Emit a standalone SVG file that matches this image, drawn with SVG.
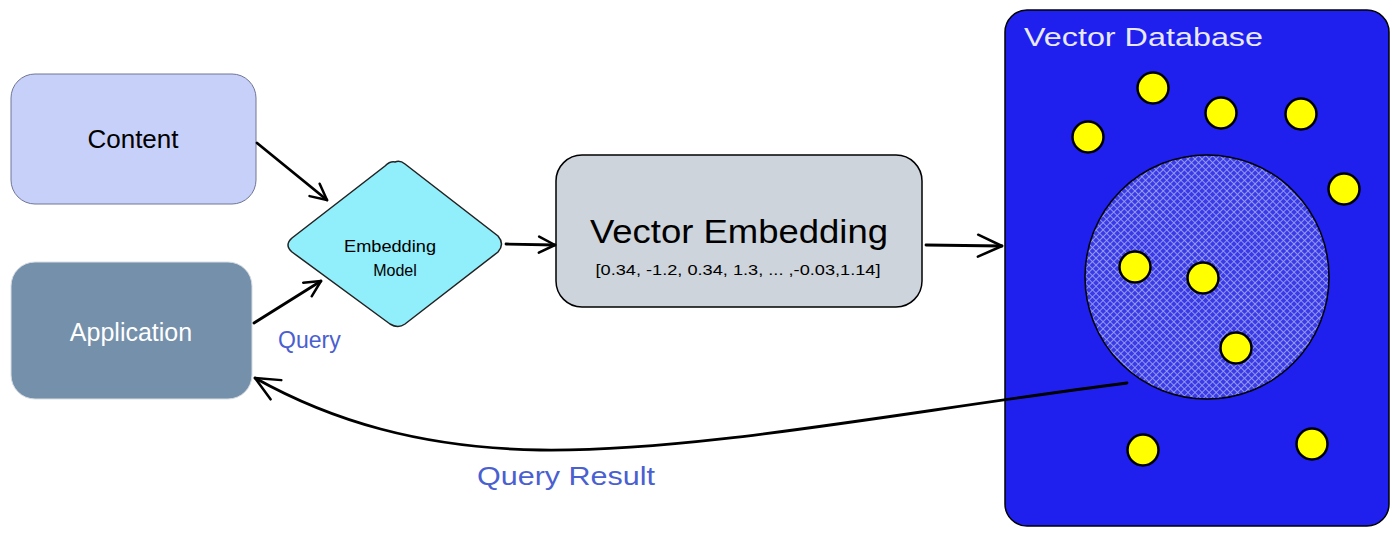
<svg xmlns="http://www.w3.org/2000/svg" width="1399" height="537" viewBox="0 0 1399 537">
<style>
.lbl{font-family:"Liberation Sans","DejaVu Sans",sans-serif;text-anchor:middle}
.conn{fill:none;stroke:#000;stroke-width:2.8;stroke-linecap:round;stroke-linejoin:round}
.dot{fill:#ffff00;stroke:#000;stroke-width:2.5}
.q{font-family:"Liberation Sans","DejaVu Sans",sans-serif;fill:#4a5fd0}
</style>
<defs>
<marker id="arr" viewBox="0 0 20 20" refX="18" refY="10" markerWidth="20" markerHeight="20" markerUnits="userSpaceOnUse" orient="auto">
<path d="M2,2 L18,10 L2,18" fill="none" stroke="#000" stroke-width="2.5" stroke-linecap="round" stroke-linejoin="round"/>
</marker>
<marker id="arrL" viewBox="0 0 30 30" refX="28" refY="15" markerWidth="30" markerHeight="30" markerUnits="userSpaceOnUse" orient="auto">
<path d="M4,4 L28,15 L4,26" fill="none" stroke="#000" stroke-width="2.5" stroke-linecap="round" stroke-linejoin="round"/>
</marker>
<pattern id="hatch" width="5" height="5" patternUnits="userSpaceOnUse" patternTransform="rotate(45)">
<rect width="5" height="5" fill="#3a3ae6"/>
<path d="M0,2.5 H5 M2.5,0 V5" stroke="#9aa0f2" stroke-width="0.9"/>
</pattern>
</defs>
<rect width="1399" height="537" fill="#fff"/>

<g id="content">
<rect x="11" y="74" width="245" height="130" rx="24" fill="#c7d0f8" stroke="#6f7696" stroke-width="1"/>
<text class="lbl" x="133" y="148" font-size="26" fill="#000">Content</text>
</g>

<g id="application">
<rect x="11" y="262" width="241" height="137" rx="24" fill="#7590aa" stroke="#d8dde3" stroke-width="1"/>
<text class="lbl" x="131" y="341" font-size="25" fill="#fff">Application</text>
</g>

<g id="embedding-model">
<path d="M395,162 Q400,160 405,164 L498,236 Q505,244 498,252 L405,324 Q398,329 390,324 L292,252 Q284,245 292,238 L385,166 Q390,161 395,162 Z" fill="#91eefb" stroke="#222" stroke-width="1.5"/>
<text class="lbl" x="390" y="252" font-size="16" fill="#000" textLength="92" lengthAdjust="spacingAndGlyphs">Embedding</text>
<text class="lbl" x="395" y="276" font-size="16" fill="#000">Model</text>
</g>

<g id="vector-embedding">
<rect x="556" y="155" width="366" height="152" rx="26" fill="#ced4db" stroke="#000" stroke-width="1.5"/>
<text class="lbl" x="739" y="243" font-size="33" fill="#000" textLength="298" lengthAdjust="spacingAndGlyphs">Vector Embedding</text>
<text class="lbl" x="738" y="275" font-size="15" fill="#000" textLength="285" lengthAdjust="spacingAndGlyphs">[0.34, -1.2, 0.34, 1.3, ... ,-0.03,1.14]</text>
</g>

<g id="vector-database">
<rect x="1005" y="10" width="384" height="516" rx="22" fill="#1f1fee" stroke="#000" stroke-width="1.5"/>
<text x="1024" y="46" font-family="Liberation Sans, DejaVu Sans, sans-serif" font-size="25" fill="#e8e8ff" textLength="239" lengthAdjust="spacingAndGlyphs">Vector Database</text>
<circle cx="1207" cy="277" r="122" fill="url(#hatch)" stroke="#000" stroke-width="1.5"/>
<circle class="dot" cx="1153" cy="88" r="15.5"/>
<circle class="dot" cx="1221" cy="113" r="15.5"/>
<circle class="dot" cx="1301" cy="114" r="15.5"/>
<circle class="dot" cx="1088" cy="137" r="15.5"/>
<circle class="dot" cx="1344" cy="189" r="15.5"/>
<circle class="dot" cx="1135" cy="267" r="15.5"/>
<circle class="dot" cx="1203" cy="278" r="15.5"/>
<circle class="dot" cx="1236" cy="348" r="15.5"/>
<circle class="dot" cx="1143" cy="450" r="15.5"/>
<circle class="dot" cx="1312" cy="444" r="15.5"/>
</g>

<g id="connectors">
<path class="conn" d="M257,143 L327,200" marker-end="url(#arr)"/>
<path class="conn" d="M254,323 L321,281" marker-end="url(#arr)"/>
<path class="conn" d="M506,244 L555,245" marker-end="url(#arr)"/>
<path class="conn" d="M926,245 L1002,246" marker-end="url(#arrL)"/>
<path class="conn" d="M1127,383 C900,412 700,452 540,450 C420,448 330,420 255,378" marker-end="url(#arrL)" stroke-width="3.5"/>
<text class="q" x="278" y="348" font-size="23">Query</text>
<text class="q" x="477" y="485" font-size="25" textLength="178" lengthAdjust="spacingAndGlyphs">Query Result</text>
</g>
</svg>
